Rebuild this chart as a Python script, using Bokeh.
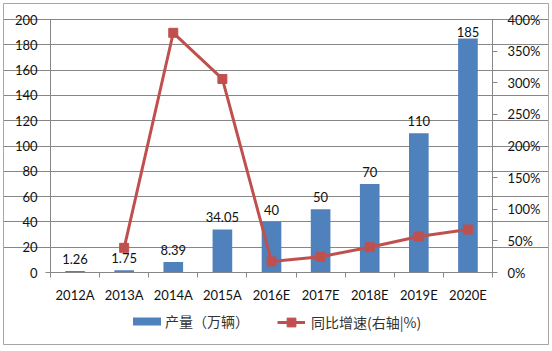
from bokeh.plotting import figure
from bokeh.models import (Range1d, LinearAxis, FixedTicker, NumeralTickFormatter,
                          ColumnDataSource, Legend, LegendItem)
from bokeh.embed import file_html
from bokeh.resources import INLINE
from bokeh.core.properties import value

years = ["2012A", "2013A", "2014A", "2015A", "2016E", "2017E", "2018E", "2019E", "2020E"]
output = [1.26, 1.75, 8.39, 34.05, 40, 50, 70, 110, 185]
output_labels = ["1.26", "1.75", "8.39", "34.05", "40", "50", "70", "110", "185"]
growth = [float("nan"), 0.39, 3.79, 3.06, 0.175, 0.25, 0.40, 0.57, 0.68]
left_ticks = [0, 20, 40, 60, 80, 100, 120, 140, 160, 180, 200]
right_ticks = [0, 0.5, 1.0, 1.5, 2.0, 2.5, 3.0, 3.5, 4.0]

BLUE = "#4F81BD"
RED = "#C0504D"
GRID = "#878787"
FONT = "Lato"
TXT = "#111111"

W, H = 552, 351
# outer chart box (screen px) and plot-area placement (screen px)
BOX_L, BOX_T, BOX_R, BOX_B = 3, 3, 548, 344
PA_L, PA_T, PA_R, PA_B = 50, 19, 492, 272

n = len(years)
ymax = left_ticks[-1]
pmax = right_ticks[-1]
xpx = (PA_R - PA_L) / n
ypx = (PA_B - PA_T) / ymax
x_start = -(PA_L - BOX_L) / xpx
x_end = n + (BOX_R - PA_R) / xpx
y_start = -(BOX_B - PA_B) / ypx
y_end = ymax + (PA_T - BOX_T) / ypx
k = pmax / ymax

xs = [i + 0.5 for i in range(n)]
label_off = [-7 if v < 180 else -1 for v in output]
src = ColumnDataSource(dict(x=xs, y=output, lab=output_labels, g=growth, off=label_off))

p = figure(width=W, height=H, x_range=Range1d(x_start, x_end), y_range=Range1d(y_start, y_end),
           output_backend="svg", toolbar_location=None,
           min_border_left=BOX_L, min_border_right=W - BOX_R, min_border_top=BOX_T,
           min_border_bottom=H - BOX_B,
           x_axis_location=None, y_axis_location=None)
p.extra_y_ranges = {"pct": Range1d(y_start * k, y_end * k)}
p.outline_line_color = "#a6a6a6"
p.outline_line_width = 1
p.background_fill_color = "white"
p.border_fill_color = "white"

# axes
xaxis = LinearAxis(ticker=FixedTicker(ticks=xs, minor_ticks=list(range(n + 1))),
                   major_label_overrides={x: y for x, y in zip(xs, years)},
                   fixed_location=0, bounds=(0, n))
xaxis.major_tick_out = 0
xaxis.major_tick_in = 0
xaxis.minor_tick_out = 5
xaxis.minor_tick_in = 0
xaxis.minor_tick_line_color = GRID
xaxis.axis_line_color = GRID
xaxis.major_label_standoff = 9
xaxis.major_label_text_font = FONT
xaxis.major_label_text_font_size = "13px"
xaxis.major_label_text_color = TXT
p.add_layout(xaxis, "below")

yaxis = LinearAxis(ticker=FixedTicker(ticks=left_ticks), fixed_location=0, bounds=(0, ymax))
yaxis.major_tick_out = 5
yaxis.major_tick_in = 0
yaxis.minor_tick_line_color = None
yaxis.axis_line_color = GRID
yaxis.major_tick_line_color = GRID
yaxis.major_label_standoff = 8
yaxis.major_label_text_font = FONT
yaxis.major_label_text_font_size = "13px"
yaxis.major_label_text_color = TXT
p.add_layout(yaxis, "left")

raxis = LinearAxis(y_range_name="pct", ticker=FixedTicker(ticks=right_ticks),
                   formatter=NumeralTickFormatter(format="0%"), fixed_location=n,
                   bounds=(0, pmax))
raxis.major_tick_out = 5
raxis.major_tick_in = 0
raxis.minor_tick_line_color = None
raxis.axis_line_color = GRID
raxis.major_tick_line_color = GRID
raxis.major_label_standoff = 10
raxis.major_label_text_font = FONT
raxis.major_label_text_font_size = "13px"
raxis.major_label_text_color = TXT
p.add_layout(raxis, "right")

p.xgrid.visible = False
p.ygrid.grid_line_color = GRID
p.ygrid.ticker = FixedTicker(ticks=left_ticks[1:])
p.ygrid.bounds = (0, n)

bars = p.vbar(x="x", top="y", width=0.4, source=src, fill_color=BLUE, line_color=None)
p.text(x="x", y="y", text="lab", source=src, text_align="center", text_baseline="bottom",
       y_offset="off", text_font=value(FONT), text_font_size="13px", text_color=TXT)

line = p.line(x="x", y="g", source=src, y_range_name="pct", line_color=RED, line_width=3)
pts = p.scatter(x="x", y="g", source=src, y_range_name="pct", marker="square", size=9,
                fill_color=RED, line_color=RED)

def make_legend(item, gw, gh, standoff, loc):
    lg = Legend(items=[item], orientation="horizontal", location=loc)
    lg.label_text_font = "Noto Sans CJK SC"
    lg.label_text_font_size = "14px"
    lg.label_text_color = "#333333"
    lg.glyph_width = gw
    lg.glyph_height = gh
    lg.label_standoff = standoff
    lg.padding = 0
    lg.margin = 0
    lg.border_line_color = None
    lg.background_fill_alpha = 0
    return lg

p.add_layout(make_legend(LegendItem(label="产量（万辆）", renderers=[bars]), 35, 10, 1, (126, 13)))
p.add_layout(make_legend(LegendItem(label="同比增速(右轴|%)", renderers=[line, pts]), 28, 22, 6, (274, 11)))

open("out.html", "w").write(file_html(p, INLINE))
